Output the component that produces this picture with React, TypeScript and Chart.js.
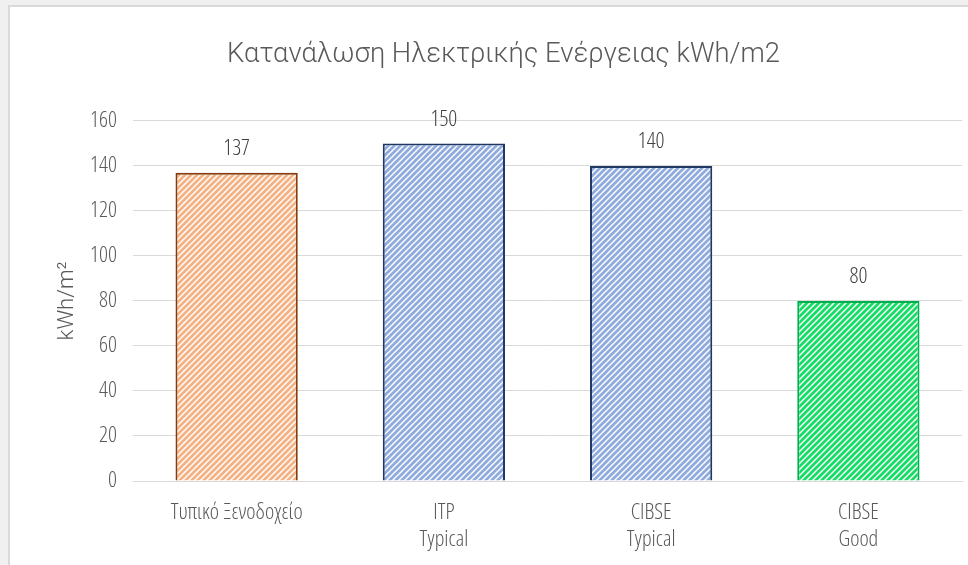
import React, { useEffect, useRef } from "react";
import { Chart, registerables } from "chart.js";

Chart.register(...registerables);

const categories: (string | string[])[] = ["Τυπικό Ξενοδοχείο", ["ITP", "Typical"], ["CIBSE", "Typical"], ["CIBSE", "Good"]];
const values: number[] = [137, 150, 140, 80];
const hatchColors: string[] = ["#F4B183", "#8FAADC", "#8FAADC", "#14DC64"];
const borderColors: string[] = ["#843C0C", "#203864", "#203864", "#00B050"];
const yTicks = { min: 0, max: 160, step: 20 };
const titleText = "Κατανάλωση Ηλεκτρικής Ενέργειας kWh/m2";
const yTitle = "kWh/m²";

const NARROW = "'Open Sans', 'Noto Sans', sans-serif";
const WIDE = "Roboto, 'Open Sans', sans-serif";
const TEXT_GRAY = "#595959";

function makeHatch(color: string): CanvasPattern | string {
  const s = 6;
  const c = document.createElement("canvas");
  c.width = s;
  c.height = s;
  const x = c.getContext("2d");
  if (!x) return color;
  x.fillStyle = "#ffffff";
  x.fillRect(0, 0, s, s);
  x.strokeStyle = color;
  x.lineWidth = 2.8;
  x.lineCap = "square";
  const seg = (x0: number, y0: number, x1: number, y1: number) => {
    x.beginPath();
    x.moveTo(x0, y0);
    x.lineTo(x1, y1);
    x.stroke();
  };
  seg(-1, s + 1, s + 1, -1);
  seg(-1, 1, 1, -1);
  seg(s - 1, s + 1, s + 1, s - 1);
  const ctx = document.createElement("canvas").getContext("2d");
  return (ctx && ctx.createPattern(c, "repeat")) || color;
}

const valueLabels = {
  id: "valueLabels",
  afterDatasetsDraw(chart: any) {
    const ctx = chart.ctx;
    const meta = chart.getDatasetMeta(0);
    ctx.save();
    ctx.font = `normal 350 condensed 22px ${NARROW}`;
    ctx.fillStyle = "#404040";
    ctx.textAlign = "center";
    ctx.textBaseline = "middle";
    meta.data.forEach((bar: any, i: number) => {
      ctx.fillText(String(values[i]), bar.x, bar.y - 24);
    });
    ctx.restore();
  },
};

export default function App() {
  const ref = useRef<HTMLCanvasElement>(null);
  useEffect(() => {
    const canvas = ref.current;
    if (!canvas) return;
    const chart = new Chart(canvas, {
      type: "bar",
      data: {
        labels: categories as any,
        datasets: [
          {
            data: values,
            backgroundColor: hatchColors.map(makeHatch) as any,
            borderColor: borderColors,
            borderWidth: 2,
            categoryPercentage: 1,
            barPercentage: 0.59,
          },
        ],
      },
      plugins: [valueLabels],
      options: {
        responsive: false,
        animation: false,
        devicePixelRatio: 1,
        layout: { padding: { left: 45, right: 6, top: 0, bottom: 0 } },
        plugins: {
          legend: { display: false },
          tooltip: { enabled: false },
          title: {
            display: true,
            text: titleText,
            color: TEXT_GRAY,
            font: { family: WIDE, size: 27.4, weight: "300" as any, lineHeight: 1.2 },
            padding: { top: 39, bottom: 49.1 },
          },
        },
        scales: {
          x: {
            grid: { display: false, drawTicks: false },
            border: { display: true, color: "#D9D9D9", width: 1 },
            ticks: {
              color: TEXT_GRAY,
              padding: 19,
              maxRotation: 0,
              autoSkip: false,
              font: { family: NARROW, size: 22, weight: "350 condensed" as any, lineHeight: 1.2 },
            },
            afterFit: (s: any) => {
              s.height = 84;
            },
          },
          y: {
            min: yTicks.min,
            max: yTicks.max,
            grid: { color: "#D9D9D9", lineWidth: 1, drawTicks: false },
            border: { display: false },
            ticks: {
              stepSize: yTicks.step,
              color: TEXT_GRAY,
              padding: 16,
              font: { family: NARROW, size: 22, weight: "350 condensed" as any },
            },
            title: {
              display: true,
              text: yTitle,
              color: TEXT_GRAY,
              padding: { top: 9, bottom: 0 },
              font: { family: WIDE, size: 22, weight: "300" as any, lineHeight: 1.2 },
            },
            afterFit: (s: any) => {
              s.width = 88;
            },
          },
        },
      },
    });
    return () => chart.destroy();
  }, []);

  return (
    <div style={{ position: "fixed", left: 0, top: 0, width: 968, height: 565, background: "#F0F0F0", overflow: "hidden" }}>
      <div
        style={{
          position: "absolute",
          left: 8,
          top: 5,
          width: 1100,
          height: 700,
          background: "#FFFFFF",
          borderLeft: "2px solid #DADADA",
          borderTop: "2px solid #DADADA",
        }}
      />
      <canvas ref={ref} width={968} height={565} style={{ position: "absolute", left: 0, top: 0, width: 968, height: 565 }} />
    </div>
  );
}
